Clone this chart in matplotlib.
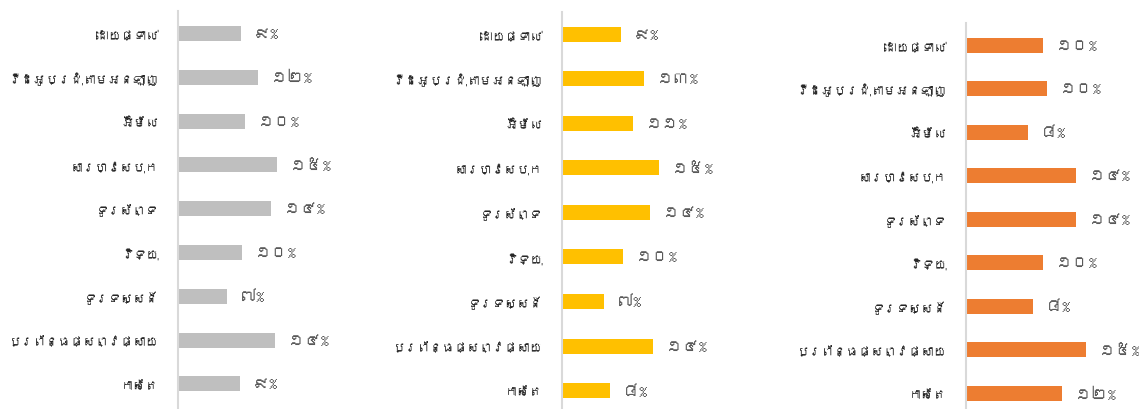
import matplotlib
matplotlib.use('Agg')
import matplotlib.pyplot as plt
from matplotlib import font_manager
from matplotlib.ft2font import FT2Font

# categories, top to bottom
cats = ['ដោយផ្ទាល់', 'វីដេអូប្រជុំតាមអនឡាញ', 'អ៊ីម៉ែល', 'សារហ្វេសបុក', 'ទូរស័ព្ទ',
        'វិទ្យុ', 'ទូរទស្សន៍', 'ប្រព័ន្ធផ្សព្វផ្សាយ', 'កាសែត']

# bar lengths and the labels shown on them
vals1 = [9.3, 11.8, 9.9, 14.6, 13.7, 9.4, 7.2, 14.3, 9.1]
vals2 = [9.1, 12.6, 10.9, 14.9, 13.5, 9.4, 6.5, 14.0, 7.4]
vals3 = [9.9, 10.4, 7.9, 14.1, 14.1, 9.9, 8.6, 15.4, 12.3]
pct1 = [9, 12, 10, 15, 14, 10, 7, 14, 9]
pct2 = [9, 13, 11, 15, 14, 10, 7, 14, 8]
pct3 = [10, 10, 8, 14, 14, 10, 8, 15, 12]

colors = ['#BFBFBF', '#FFC000', '#ED7D31']

# look for a font with khmer glyphs
khmer = None
for f in font_manager.fontManager.ttflist:
    try:
        if 0x1780 in FT2Font(f.fname).get_charmap():
            khmer = f.name
            break
    except Exception:
        pass
fams = ([khmer] if khmer else []) + ['DejaVu Sans']

KD = '០១២៣៤៥៦៧៨៩'
def kh(n):
    return ''.join(KD[int(c)] for c in str(n)) + '%'

W, H = 1139, 410
fig = plt.figure(figsize=(W / 100, H / 100), dpi=100)

# axis x (px), px per %, first centre, last centre, top of axis line
panels = [
    (vals1, pct1, colors[0], 178, 6.8, 34.5, 385.0, 12),
    (vals2, pct2, colors[1], 562, 6.5, 35.0, 391.7, 13),
    (vals3, pct3, colors[2], 966, 7.8, 46.0, 394.5, 24),
]

for vals, pcts, col, x0, sc, c0, c1, top in panels:
    sp = (c1 - c0) / (len(cats) - 1)
    wpx = 20 * sc
    ax = fig.add_axes([x0 / W, 0, wpx / W, (H - top) / H])
    y = list(range(len(cats)))
    ax.barh(y, vals, height=15 / sp, color=col)
    ax.set_xlim(0, 20)
    ax.set_ylim((H - c0) / sp, (top - c0) / sp)
    for yi, v, p in zip(y, vals, pcts):
        ax.text(v + 13 / sc, yi, kh(p), va='center', ha='left', fontsize=12,
                color='#595959', family=fams)
    ax.set_yticks(y)
    ax.set_yticklabels(cats, family=fams, fontsize=9.0, color='#262626')
    ax.tick_params(axis='y', length=0, pad=14)
    ax.set_xticks([])
    for s in ['top', 'right', 'bottom']:
        ax.spines[s].set_visible(False)
    ax.spines['left'].set_color('#D9D9D9')
    ax.spines['left'].set_linewidth(1.5)
    ax.patch.set_visible(False)

fig.savefig('out.png', dpi=100)
